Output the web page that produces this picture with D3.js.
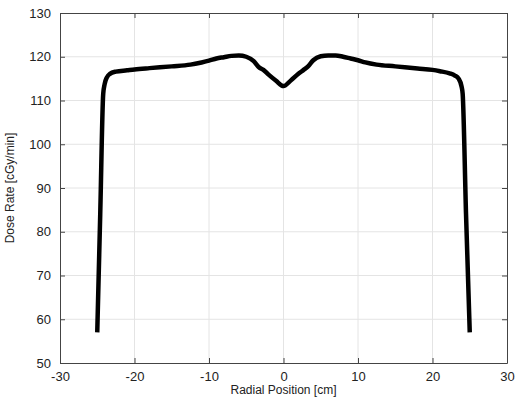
<!DOCTYPE html>
<html>
<head>
<meta charset="utf-8">
<script src="https://cdn.jsdelivr.net/npm/d3@7"></script>
<style>
	body { margin: 0; background: #fff; }
	svg { display: block; font-family: "Liberation Sans", Arial, sans-serif; }
	.grid line { stroke: #e4e4e4; stroke-width: 1; }
	.axis path, .axis line { stroke: #444; }
	.axis text { fill: #222; font-size: 13px; }
	.label { fill: #222; font-size: 12px; }
	.profile { fill: none; stroke: #000; stroke-width: 4.5; stroke-linejoin: round; }
</style>
</head>
<body>
<div class="svg-container"></div>
<script>
// radial position [cm]
var positions = [-25, -24.6, -24.2, -24.0, -23.7, -23.3, -22.5, -21, -20, -18, -15, -12.5, -11, -10,
	-9, -8, -7, -6, -5, -4, -3.3, -2.7, -2, -1, 0, 1, 2, 2.7, 3.3, 4, 5, 6, 7, 8, 9, 10, 11, 12.5, 15, 18,
	20, 21, 22.3, 23.0, 23.5, 23.9, 24.05, 24.5, 25];
// dose rate [cGy/min]
var doseRates = [57, 84, 111.5, 113.8, 115.3, 116.1, 116.6, 116.9, 117.1, 117.4, 117.8, 118.2, 118.7, 119.1,
	119.6, 119.9, 120.2, 120.3, 120.0, 119.0, 117.6, 117.0, 115.9, 114.5, 113.3, 114.6, 116.1, 117.0, 117.8, 119.2, 120.1, 120.3,
	120.3, 120.0, 119.6, 119.2, 118.7, 118.2, 117.8, 117.3, 117.0, 116.7, 116.2, 115.7, 115.0, 113.2, 111.5, 84, 57];
var xTicks = [-30, -20, -10, 0, 10, 20, 30];
var yTicks = [50, 60, 70, 80, 90, 100, 110, 120, 130];

var width = 516, height = 403;
var margin = { left: 60, right: 9, top: 13, bottom: 40 };

var svg = d3.select('.svg-container')
	.append('svg')
	.attr('width', width)
	.attr('height', height);

var xScale = d3.scaleLinear()
	.domain([-30, 30])
	.range([margin.left, width - margin.right]);

var yScale = d3.scaleLinear()
	.domain([50, 130])
	.range([height - margin.bottom, margin.top]);

// grid
var grid = svg.append('g').attr('class', 'grid');
grid.selectAll('.gx')
	.data(xTicks.slice(1, -1))
	.enter().append('line')
	.attr('x1', function(d) { return xScale(d); })
	.attr('x2', function(d) { return xScale(d); })
	.attr('y1', yScale(50))
	.attr('y2', yScale(130));
grid.selectAll('.gy')
	.data(yTicks.slice(1, -1))
	.enter().append('line')
	.attr('x1', xScale(-30))
	.attr('x2', xScale(30))
	.attr('y1', function(d) { return yScale(d); })
	.attr('y2', function(d) { return yScale(d); });

// axes, ticks inward on all four sides
var plain = function(d) { return String(d); };
var xAxis = d3.axisBottom(xScale).tickValues(xTicks).tickSize(-5).tickPadding(9).tickSizeOuter(0)
	.tickFormat(plain);
var xAxisTop = d3.axisTop(xScale).tickValues(xTicks).tickSize(-5).tickSizeOuter(0).tickFormat('');
var yAxis = d3.axisLeft(yScale).tickValues(yTicks).tickSize(-5).tickPadding(9).tickSizeOuter(0)
	.tickFormat(plain);
var yAxisRight = d3.axisRight(yScale).tickValues(yTicks).tickSize(-5).tickSizeOuter(0).tickFormat('');

svg.append('g')
	.attr('class', 'axis')
	.attr('transform', 'translate(0, ' + yScale(50) + ')')
	.call(xAxis);
svg.append('g')
	.attr('class', 'axis')
	.attr('transform', 'translate(0, ' + yScale(130) + ')')
	.call(xAxisTop);
svg.append('g')
	.attr('class', 'axis')
	.attr('transform', 'translate(' + xScale(-30) + ', 0)')
	.call(yAxis);
svg.append('g')
	.attr('class', 'axis')
	.attr('transform', 'translate(' + xScale(30) + ', 0)')
	.call(yAxisRight);

svg.selectAll('.axis').attr('font-family', null).attr('font-size', null);

// profile
var line = d3.line()
	.x(function(d, i) { return xScale(positions[i]); })
	.y(function(d) { return yScale(d); })
	.curve(d3.curveMonotoneX);

svg.append('path')
	.datum(doseRates)
	.attr('class', 'profile')
	.attr('d', line);

// labels
svg.append('text')
	.attr('class', 'label')
	.attr('x', xScale(0))
	.attr('y', 394)
	.attr('text-anchor', 'middle')
	.text('Radial Position [cm]');

svg.append('text')
	.attr('class', 'label')
	.attr('transform', 'translate(14, ' + yScale(90) + ') rotate(-90)')
	.attr('text-anchor', 'middle')
	.text('Dose Rate [cGy/min]');
</script>
</body>
</html>
